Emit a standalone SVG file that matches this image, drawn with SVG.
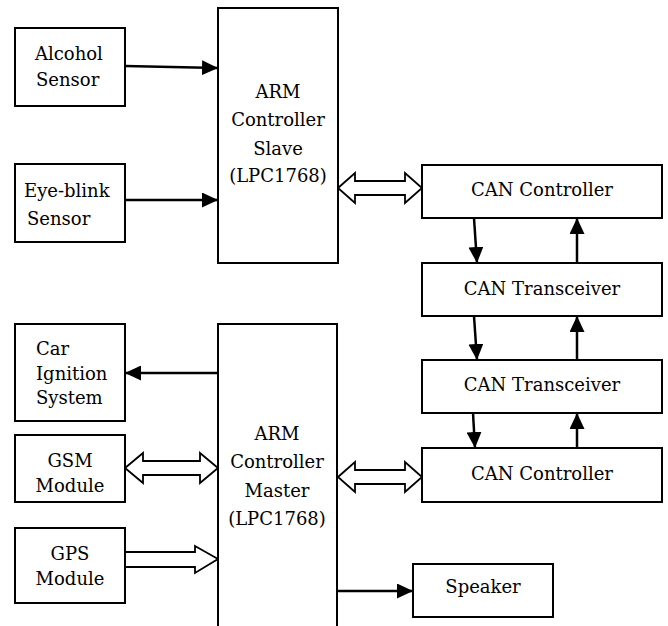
<svg xmlns="http://www.w3.org/2000/svg" width="668" height="626" viewBox="0 0 668 626">
<style>
.box{fill:#fff;stroke:#000;stroke-width:2}
.t{font-family:"DejaVu Serif","Liberation Serif",serif;font-size:18px;fill:#000}
.c{text-anchor:middle}
.ln{stroke:#000;stroke-width:2.5;fill:none}
.hol{fill:#fff;stroke:#000;stroke-width:1.8;stroke-linejoin:miter}
</style>
<defs>
<marker id="ah" markerWidth="16" markerHeight="15" refX="16" refY="7.5" orient="auto" markerUnits="userSpaceOnUse">
<path d="M0,0 L16,7.5 L0,15 Z" fill="#000"/>
</marker>
</defs>
<rect width="668" height="626" fill="#fff"/>
<g id="connectors">
<line class="ln" x1="125" y1="66" x2="218" y2="68" marker-end="url(#ah)"/>
<line class="ln" x1="125" y1="200" x2="218" y2="200" marker-end="url(#ah)"/>
<line class="ln" x1="218" y1="373" x2="125" y2="373" marker-end="url(#ah)"/>
<line class="ln" x1="338" y1="591" x2="413" y2="591" marker-end="url(#ah)"/>
<line class="ln" x1="474" y1="218" x2="477" y2="263" marker-end="url(#ah)"/>
<line class="ln" x1="577" y1="263" x2="577" y2="218" marker-end="url(#ah)"/>
<line class="ln" x1="474" y1="316" x2="477" y2="360" marker-end="url(#ah)"/>
<line class="ln" x1="577" y1="360" x2="577" y2="316" marker-end="url(#ah)"/>
<line class="ln" x1="473" y1="413" x2="475" y2="448" marker-end="url(#ah)"/>
<line class="ln" x1="577" y1="448" x2="577" y2="413" marker-end="url(#ah)"/>
<polygon class="hol" points="338,188 355,173 355,181 405,181 405,173 422,188 405,203 405,195 355,195 355,203"/>
<polygon class="hol" points="338,477 355,462 355,470 405,470 405,462 422,477 405,492 405,484 355,484 355,492"/>
<polygon class="hol" points="125,468 143,453 143,461 200,461 200,453 218,468 200,483 200,475 143,475 143,483"/>
<polygon class="hol" points="125,552 195,552 195,546 218,559 195,573 195,567 125,567"/>
</g>
<g id="alcohol">
<rect class="box" x="15" y="28" width="110" height="78"/>
<text class="t" x="35" y="60">Alcohol</text>
<text class="t" x="36" y="86">Sensor</text>
</g>
<g id="eyeblink">
<rect class="box" x="15" y="164" width="110" height="78"/>
<text class="t" x="24" y="197">Eye-blink</text>
<text class="t" x="27" y="225">Sensor</text>
</g>
<g id="slave">
<rect class="box" x="218" y="8" width="120" height="255"/>
<text class="t c" x="278" y="98">ARM</text>
<text class="t c" x="278" y="126">Controller</text>
<text class="t c" x="278" y="155">Slave</text>
<text class="t c" x="278" y="182">(LPC1768)</text>
</g>
<g id="cancontroller1">
<rect class="box" x="422" y="165" width="240" height="53"/>
<text class="t c" x="542" y="196">CAN Controller</text>
</g>
<g id="cantransceiver1">
<rect class="box" x="422" y="263" width="240" height="53"/>
<text class="t c" x="542" y="295">CAN Transceiver</text>
</g>
<g id="cantransceiver2">
<rect class="box" x="422" y="360" width="240" height="53"/>
<text class="t c" x="542" y="391">CAN Transceiver</text>
</g>
<g id="cancontroller2">
<rect class="box" x="422" y="448" width="240" height="54"/>
<text class="t c" x="542" y="480">CAN Controller</text>
</g>
<g id="ignition">
<rect class="box" x="15" y="324" width="110" height="97"/>
<text class="t" x="36" y="355">Car</text>
<text class="t" x="36" y="380">Ignition</text>
<text class="t" x="36" y="404">System</text>
</g>
<g id="gsm">
<rect class="box" x="15" y="435" width="110" height="67"/>
<text class="t c" x="70" y="467">GSM</text>
<text class="t c" x="70" y="492">Module</text>
</g>
<g id="gps">
<rect class="box" x="15" y="528" width="110" height="75"/>
<text class="t c" x="70" y="560">GPS</text>
<text class="t c" x="70" y="585">Module</text>
</g>
<g id="master">
<rect class="box" x="218" y="324" width="119" height="320"/>
<text class="t c" x="277" y="440">ARM</text>
<text class="t c" x="277" y="468">Controller</text>
<text class="t c" x="277" y="497">Master</text>
<text class="t c" x="277" y="525">(LPC1768)</text>
</g>
<g id="speaker">
<rect class="box" x="413" y="564" width="140" height="53"/>
<text class="t c" x="483" y="593">Speaker</text>
</g>
</svg>
